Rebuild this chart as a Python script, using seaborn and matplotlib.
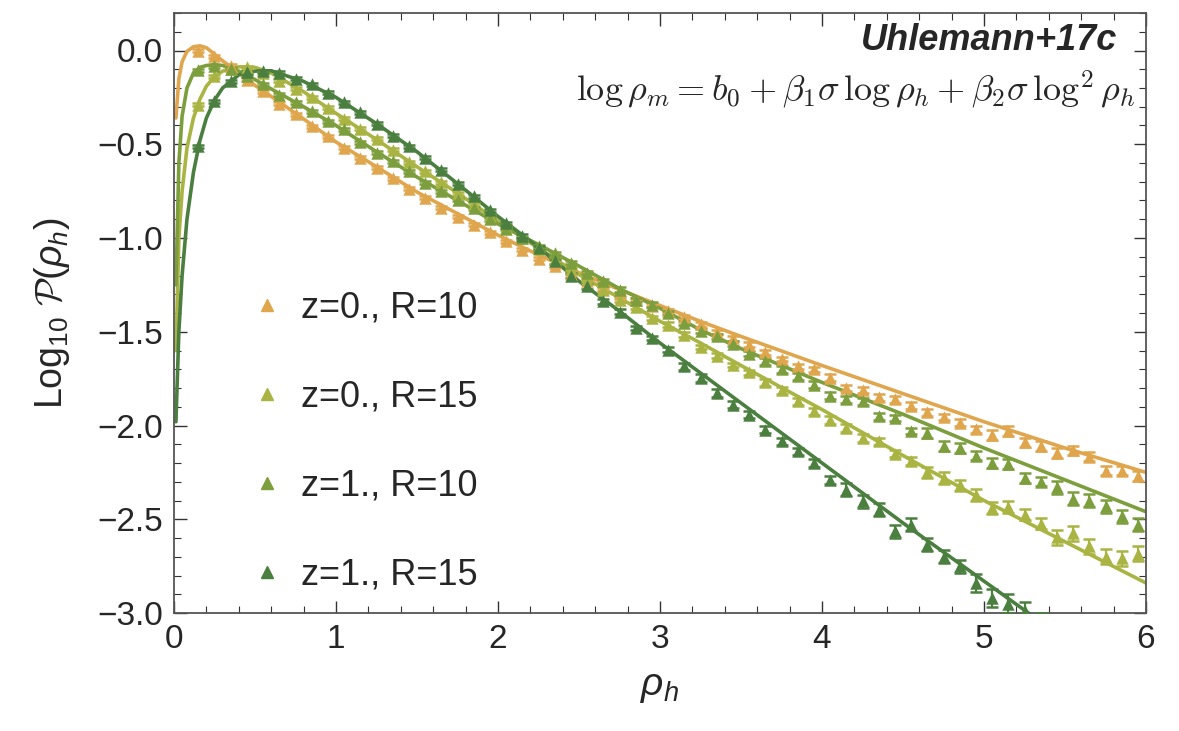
import numpy as np
import pandas as pd
import seaborn as sns
import matplotlib.pyplot as plt
from matplotlib.lines import Line2D
from matplotlib.ticker import MultipleLocator

# ---------------- data ----------------
x_pts = np.round(np.arange(0.15, 6.0, 0.1), 2)   # bin centres 0.15 ... 5.95

y_z0_R10 = [0.0, -0.03, -0.08, -0.155, -0.217, -0.283, -0.341, -0.404, -0.457, -0.519,
            -0.573, -0.626, -0.68, -0.738, -0.786, -0.839, -0.887, -0.928, -0.97, -1.018,
            -1.062, -1.11, -1.15, -1.19, -1.23, -1.27, -1.30, -1.33, -1.36, -1.39,
            -1.42, -1.46, -1.50, -1.535, -1.569, -1.61, -1.645, -1.685, -1.70, -1.745,
            -1.80, -1.81, -1.85, -1.86, -1.894, -1.93, -1.955, -1.985, -2.02, -2.05,
            -2.03, -2.09, -2.11, -2.146, -2.133, -2.167, -2.24, -2.24, -2.27]
y_z0_R15 = [-0.288, -0.137, -0.10, -0.09, -0.12, -0.16, -0.204, -0.25, -0.306, -0.365,
            -0.418, -0.47, -0.528, -0.596, -0.644, -0.703, -0.76, -0.82, -0.88, -0.94,
            -1.0, -1.06, -1.11, -1.165, -1.22, -1.275, -1.33, -1.368, -1.426, -1.462,
            -1.515, -1.582, -1.627, -1.676, -1.716, -1.77, -1.813, -1.871, -1.925, -1.97,
            -2.013, -2.067, -2.085, -2.15, -2.19, -2.25, -2.28, -2.32, -2.37, -2.44,
            -2.435, -2.476, -2.524, -2.595, -2.574, -2.645, -2.70, -2.707, -2.684]
y_z1_R10 = [-0.105, -0.083, -0.098, -0.135, -0.18, -0.235, -0.276, -0.324, -0.377, -0.42,
            -0.489, -0.545, -0.59, -0.644, -0.706, -0.75, -0.795, -0.84, -0.9, -0.95,
            -1.0, -1.045, -1.08, -1.133, -1.186, -1.23, -1.275, -1.33, -1.355, -1.40,
            -1.453, -1.495, -1.525, -1.563, -1.617, -1.658, -1.70, -1.738, -1.782, -1.84,
            -1.86, -1.87, -1.95, -1.96, -2.03, -2.04, -2.11, -2.12, -2.16, -2.20,
            -2.205, -2.28, -2.30, -2.33, -2.39, -2.40, -2.43, -2.485, -2.53]
y_z1_R15 = [-0.51, -0.27, -0.164, -0.116, -0.11, -0.119, -0.151, -0.181, -0.226, -0.276,
            -0.329, -0.39, -0.454, -0.51, -0.573, -0.635, -0.71, -0.777, -0.852, -0.92,
            -0.99, -1.053, -1.124, -1.2, -1.258, -1.338, -1.393, -1.48, -1.533, -1.595,
            -1.685, -1.747, -1.827, -1.889, -1.942, -2.022, -2.085, -2.138, -2.20, -2.29,
            -2.343, -2.405, -2.45, -2.565, -2.53, -2.636, -2.70, -2.75, -2.84, -2.92,
            -2.95, -2.99, -3.05, np.nan, np.nan, np.nan, np.nan, np.nan, np.nan]

e_z0_R10 = [0.008] * 29 + [0.012] * 10 + [0.018] * 10 + [0.025] * 10
e_z0_R15 = [0.008] * 25 + [0.012] * 10 + [0.02] * 10 + [0.03] * 8 + [0.04] * 6
e_z1_R10 = [0.008] * 25 + [0.012] * 10 + [0.018] * 10 + [0.025] * 8 + [0.035] * 6
e_z1_R15 = [0.008] * 20 + [0.012] * 10 + [0.02] * 10 + [0.035] * 8 + [0.05] * 11

# model curves
x_curve = [0.012, 0.03, 0.05, 0.08, 0.12, 0.16, 0.2, 0.25, 0.3, 0.4, 0.5, 0.6, 0.8,
           1.0, 1.25, 1.5, 1.75, 2.0, 2.25, 2.5, 2.75, 3.0, 3.25, 3.5, 4.0, 4.5, 5.0,
           5.5, 6.0]
c_z0_R10 = [-0.36, -0.15, -0.06, -0.005, 0.02, 0.025, 0.015, -0.02, -0.055, -0.12, -0.186,
            -0.245, -0.365, -0.488, -0.62, -0.755, -0.87, -0.985, -1.09, -1.185, -1.275,
            -1.36, -1.445, -1.525, -1.68, -1.83, -1.98, -2.12, -2.25]
c_z0_R15 = [-1.6, -1.0, -0.75, -0.52, -0.36, -0.26, -0.19, -0.14, -0.11, -0.087, -0.09,
            -0.12, -0.22, -0.335, -0.475, -0.62, -0.76, -0.91, -1.055, -1.195, -1.32,
            -1.444, -1.56, -1.68, -1.915, -2.16, -2.40, -2.62, -2.84]
c_z1_R10 = [-1.25, -0.6, -0.35, -0.2, -0.12, -0.09, -0.08, -0.075, -0.08, -0.11, -0.155,
            -0.205, -0.30, -0.40, -0.54, -0.675, -0.80, -0.925, -1.035, -1.15, -1.27,
            -1.375, -1.49, -1.59, -1.77, -1.94, -2.12, -2.29, -2.46]
c_z1_R15 = [-1.98, -1.5, -1.2, -0.9, -0.65, -0.48, -0.36, -0.265, -0.2, -0.13, -0.11,
            -0.108, -0.165, -0.25, -0.39, -0.54, -0.71, -0.885, -1.05, -1.23, -1.39,
            -1.56, -1.72, -1.88, -2.2, -2.52, -2.83, -3.14, -3.45]

labels = ["z=0., R=10", "z=0., R=15", "z=1., R=10", "z=1., R=15"]
colors = ["#E0A64E", "#A9B443", "#7C9E3D", "#4B7F40"]
points = [y_z0_R10, y_z0_R15, y_z1_R10, y_z1_R15]
errors = [e_z0_R10, e_z0_R15, e_z1_R10, e_z1_R15]
curves = [c_z0_R10, c_z0_R15, c_z1_R10, c_z1_R15]

# ---------------- style ----------------
sns.set_style("ticks")
plt.rcParams['font.family'] = ['Liberation Sans', 'DejaVu Sans']
plt.rcParams['mathtext.fontset'] = 'custom'
plt.rcParams['mathtext.rm'] = 'Liberation Sans'
plt.rcParams['mathtext.it'] = 'Liberation Sans:italic'
plt.rcParams['mathtext.cal'] = 'cmsy10'

fig = plt.figure(figsize=(11.79, 7.31), dpi=100)
ax = fig.add_axes([174 / 1179, 1 - 613 / 731, (1146 - 174) / 1179, (613 - 13) / 731])

for yc, col in zip(curves, colors):
    sns.lineplot(x=x_curve, y=yc, color=col, lw=2.6, ax=ax, zorder=2)

for yp, ep, col in zip(points, errors, colors):
    ax.errorbar(x_pts, yp, yerr=ep, fmt='none', ecolor=col, elinewidth=1.6,
                capsize=4.5, capthick=1.8, zorder=3)
    sns.scatterplot(x=x_pts, y=yp, marker='^', s=80, color=col, edgecolor=col,
                    linewidth=0, ax=ax, zorder=4)

ax.set_xlim(0, 6)
ax.set_ylim(-3, 0.2)
ax.xaxis.set_major_locator(MultipleLocator(1))
ax.xaxis.set_minor_locator(MultipleLocator(0.2))
ax.yaxis.set_major_locator(MultipleLocator(0.5))
ax.yaxis.set_minor_locator(MultipleLocator(0.1))
ax.yaxis.set_major_formatter(plt.FuncFormatter(lambda v, p: f"{v:.1f}".replace('-', '\u2212')))
ax.tick_params(which='both', direction='in', top=True, right=True, color='#333333')
ax.tick_params(which='major', length=9, width=1.0, labelsize=24, pad=8)
ax.tick_params(which='minor', length=5, width=0.8)
for sp in ax.spines.values():
    sp.set_color('#555555')
    sp.set_linewidth(1.3)

ax.set_xlabel(r'$\rho_h$', fontsize=28, labelpad=10)
ax.set_ylabel(r'Log$_{10}$ $\mathcal{P}(\rho_h)$', fontsize=27, labelpad=18)

ax.text(0.970, 0.955, 'Uhlemann+17c', transform=ax.transAxes, ha='right', va='center',
        fontsize=26, fontweight='bold', fontstyle='italic')
ax.text(0.989, 0.874, r'$\log\rho_m = b_0 + \beta_1\sigma\,\log\rho_h + \beta_2\sigma\,\log^2\rho_h$',
        transform=ax.transAxes, ha='right', va='center', fontsize=26, math_fontfamily='cm')

handles = [Line2D([], [], marker='^', ls='none', color=c, markersize=8) for c in colors]
ax.legend(handles, labels, loc='center left', bbox_to_anchor=(0.04, 0.286), frameon=False,
          fontsize=26, labelspacing=1.5, handletextpad=0.33, handlelength=1.2,
          borderpad=0.4)

fig.savefig('out.png', dpi=100)
